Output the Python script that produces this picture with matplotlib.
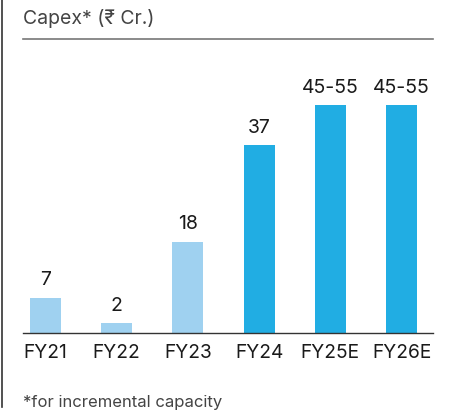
import matplotlib
matplotlib.use("Agg")
import matplotlib.pyplot as plt
from matplotlib.lines import Line2D

years = ["FY21", "FY22", "FY23", "FY24", "FY25E", "FY26E"]
capex = [7, 2, 18, 37, 45, 45]
labels = ["7", "2", "18", "37", "45-55", "45-55"]
cores = ["#9fd1f0", "#9fd1f0", "#9fd1f0", "#21ade3", "#21ade3", "#21ade3"]

plt.rcParams['font.family'] = ['Inter', 'DejaVu Sans']

W, H = 474, 417
fig = plt.figure(figsize=(W / 100, H / 100), dpi=100)
ax = fig.add_axes([23 / W, 84 / H, 410 / W, 294 / H])

x = list(range(len(years)))
ax.bar(x, capex, width=0.435, color=cores)
for i in x:
    ax.annotate(labels[i], (i, capex[i]), xytext=(0, 6), textcoords="offset points",
                ha="center", va="bottom", fontsize=14, color="#1a1a1a")

ax.set_xlim(-0.316, 5.44)
ax.set_ylim(0, 58)
ax.set_xticks(x)
ax.set_xticklabels(years, fontsize=13.8, color="#1a1a1a")
ax.tick_params(axis="x", length=0, pad=8)
ax.set_yticks([])
for s in ["left", "right"]:
    ax.spines[s].set_visible(False)
ax.spines["top"].set_color("#777777")
ax.spines["top"].set_linewidth(1.2)
ax.spines["bottom"].set_color("#333333")
ax.spines["bottom"].set_linewidth(1.0)

fig.text(23 / W, 1 - 19 / H, "Capex* (₹ Cr.)", fontsize=14, color="#444444", va="center", ha="left")
fig.text(23 / W, 1 - 403 / H, "*for incremental capacity", fontsize=12, color="#444444", va="center", ha="left")

fig.add_artist(Line2D([1.5 / W, 1.5 / W], [1, 1 - 407 / H], color="#333333", linewidth=1.2))

fig.savefig("out.png", dpi=100)
